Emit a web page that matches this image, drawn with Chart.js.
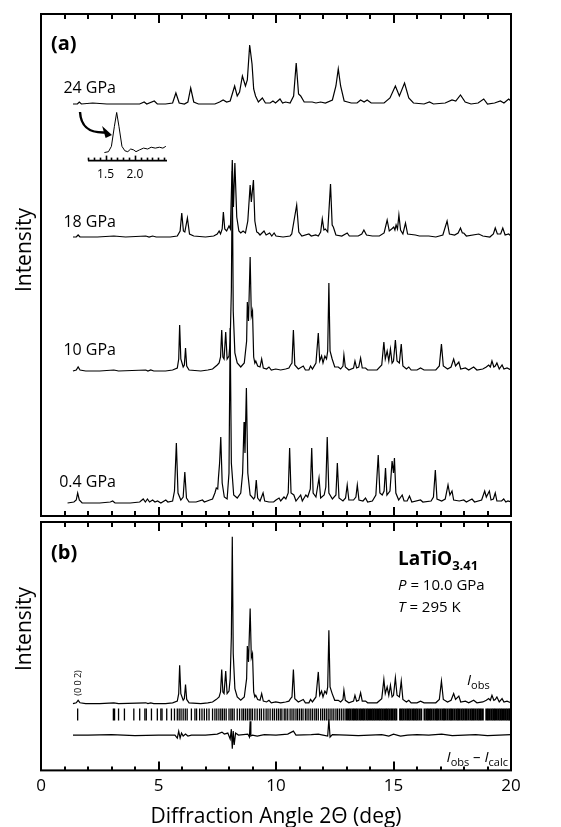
<!DOCTYPE html>
<html>
<head>
<meta charset="utf-8">
<script src="https://cdn.jsdelivr.net/npm/chart.js@4.4.1/dist/chart.umd.min.js"></script>
<style>
html, body { margin: 0; padding: 0; background: #fff; overflow: hidden; }
#wrap { position: relative; width: 561px; height: 827px; overflow: hidden; }
canvas { position: absolute; left: 0; }
</style>
</head>
<body>
<div id="wrap">
  <canvas id="panelA" width="561" height="518" style="top:0"></canvas>
  <canvas id="panelB" width="561" height="316" style="top:514px"></canvas>
  <canvas id="inset" width="120" height="92" style="left:60px;top:100px"></canvas>
</div>
<script>
// XRD patterns of LaTiO3.41, [2theta (deg), intensity above baseline]
const p24 = [[1.36,0],[1.55,0],[1.63,2],[1.72,0],[2.2,1],[2.8,0],[3.5,0],[4.2,0],[4.39,2],[4.5,0],[4.82,3],[4.95,0],[5.3,0],[5.6,1],[5.74,11],[5.88,1],[6.1,0],[6.25,2],[6.37,16],[6.5,2],[6.7,0],[7.4,0],[7.6,2],[7.75,4],[7.9,2],[8.05,3],[8.24,18],[8.35,8],[8.45,12],[8.57,28],[8.7,18],[8.78,24],[8.88,59],[8.98,40],[9.05,15],[9.13,8],[9.25,2],[9.42,6],[9.55,1],[9.75,1],[9.87,3],[9.98,1],[10.17,5],[10.28,1],[10.41,2],[10.6,1],[10.75,8],[10.86,41],[10.96,10],[11.05,8],[11.2,2],[11.54,2],[11.7,1],[11.9,2],[12.1,1],[12.4,4],[12.55,18],[12.65,35],[12.75,18],[12.9,3],[13.2,1],[13.45,1],[13.6,4],[13.75,2],[13.88,4],[14.05,1],[14.6,1],[14.85,6],[15.08,18],[15.25,8],[15.47,21],[15.65,6],[15.85,1],[16.3,0],[16.53,2],[16.7,0],[17.2,1],[17.49,4],[17.65,3],[17.85,9],[18.05,2],[18.3,0],[18.6,1],[18.84,5],[19.0,0],[19.3,1],[19.55,3],[19.7,1],[19.9,5],[20,3]];

const p18 = [[1.36,0],[1.5,0],[1.58,2],[1.66,0],[2.4,0],[3.1,1],[3.6,0],[4.46,1],[4.6,0],[4.75,1],[4.9,0],[5.5,0],[5.8,1],[5.92,6],[5.99,24],[6.06,6],[6.12,5],[6.23,19],[6.32,3],[6.5,1],[7.0,0],[7.35,1],[7.5,3],[7.58,6],[7.64,3],[7.71,8],[7.76,25],[7.82,8],[7.9,6],[8.0,11],[8.06,8],[8.14,77],[8.19,30],[8.25,74],[8.33,20],[8.42,6],[8.5,4],[8.6,6],[8.7,4],[8.8,16],[8.9,52],[8.95,35],[9.04,57],[9.1,16],[9.18,5],[9.25,4],[9.32,2],[9.49,6],[9.58,2],[9.73,4],[9.82,1],[9.92,4],[10.0,1],[10.3,0],[10.6,1],[10.67,3],[10.88,32],[10.97,5],[11.1,1],[11.4,3],[11.5,1],[11.69,2],[11.8,1],[11.9,5],[11.97,18],[12.04,7],[12.1,8],[12.2,5],[12.32,53],[12.39,12],[12.44,10],[12.55,2],[12.8,1],[13.03,4],[13.12,1],[13.5,1],[13.65,3],[13.74,7],[13.85,2],[14.1,1],[14.4,1],[14.6,4],[14.73,17],[14.82,6],[14.92,8],[15.01,10],[15.06,7],[15.11,12],[15.17,8],[15.23,22],[15.3,7],[15.4,3],[15.51,14],[15.6,3],[15.93,2],[16.1,1],[16.5,1],[16.8,0],[17.1,2],[17.28,16],[17.38,3],[17.6,2],[17.75,4],[17.85,9],[17.93,4],[17.99,4],[18.1,1],[18.63,3],[18.8,1],[19.1,0],[19.25,3],[19.33,9],[19.42,3],[19.56,3],[19.65,9],[19.75,2],[19.9,3],[20,1]];

const p10 = [[1.36,0],[1.5,1],[1.58,4],[1.66,1],[1.9,0],[2.5,0],[3.1,1],[3.3,0],[4.46,1],[4.55,0],[4.67,1],[4.8,0],[5.3,0],[5.6,1],[5.8,3],[5.86,12],[5.9,46],[5.95,12],[6.05,4],[6.1,6],[6.15,23],[6.2,5],[6.3,1],[6.8,0],[7.1,1],[7.3,2],[7.45,5],[7.5,6],[7.58,8],[7.64,14],[7.69,41],[7.74,14],[7.79,12],[7.86,39],[7.92,12],[8.0,15],[8.05,30],[8.1,80],[8.14,200],[8.18,60],[8.25,18],[8.35,8],[8.5,4],[8.65,8],[8.75,30],[8.78,69],[8.83,50],[8.9,114],[8.95,55],[9.0,60],[9.05,14],[9.1,8],[9.14,10],[9.22,5],[9.32,4],[9.39,12],[9.46,3],[9.6,2],[9.7,4],[9.8,1],[9.99,2],[10.2,1],[10.41,2],[10.55,3],[10.62,6],[10.68,8],[10.74,41],[10.8,6],[10.95,2],[11.16,5],[11.25,1],[11.4,1],[11.47,5],[11.55,2],[11.7,8],[11.8,38],[11.86,10],[11.94,15],[12.0,8],[12.08,15],[12.15,12],[12.2,20],[12.25,88],[12.3,20],[12.39,12],[12.5,4],[12.65,4],[12.75,2],[12.85,5],[12.89,16],[12.95,4],[13.1,1],[13.3,3],[13.36,10],[13.43,3],[13.52,4],[13.6,13],[13.67,3],[13.81,3],[13.9,1],[14.3,1],[14.5,6],[14.59,29],[14.65,12],[14.73,20],[14.8,10],[14.87,22],[14.94,8],[15.0,10],[15.08,31],[15.15,10],[15.25,8],[15.33,27],[15.4,5],[15.55,2],[15.65,4],[15.75,1],[16.0,1],[16.15,3],[16.3,1],[16.8,1],[16.95,5],[17.04,27],[17.12,5],[17.3,2],[17.45,4],[17.56,12],[17.64,5],[17.78,9],[17.86,2],[18.06,3],[18.2,1],[18.41,4],[18.55,1],[18.8,2],[18.95,4],[19.05,6],[19.12,4],[19.19,10],[19.27,4],[19.33,5],[19.4,8],[19.5,2],[19.62,6],[19.7,2],[19.83,3],[20,1]];

const p04 = [[1.13,0],[1.4,1],[1.5,3],[1.56,10],[1.63,3],[1.75,0],[2.5,0],[2.95,1],[3.05,2],[3.15,0],[3.8,0],[4.2,1],[4.35,4],[4.44,1],[4.53,4],[4.62,1],[4.75,3],[4.85,1],[4.96,2],[5.1,0],[5.31,3],[5.4,1],[5.6,2],[5.68,12],[5.76,60],[5.83,10],[5.95,3],[6.05,6],[6.12,31],[6.19,5],[6.3,1],[6.6,1],[6.87,3],[6.95,1],[7.18,3],[7.3,4],[7.4,10],[7.46,15],[7.52,14],[7.55,25],[7.6,40],[7.65,66],[7.71,20],[7.8,6],[7.92,4],[8.0,30],[8.05,175],[8.1,40],[8.2,8],[8.35,5],[8.5,10],[8.58,30],[8.64,81],[8.68,50],[8.74,115],[8.8,30],[8.9,8],[9.05,4],[9.1,6],[9.16,23],[9.22,5],[9.32,2],[9.45,10],[9.52,2],[9.7,1],[9.9,1],[10.0,3],[10.13,5],[10.2,2],[10.34,6],[10.42,4],[10.52,10],[10.58,55],[10.64,10],[10.76,8],[10.85,2],[11.05,8],[11.12,2],[11.27,8],[11.35,6],[11.46,14],[11.52,55],[11.58,10],[11.7,6],[11.83,25],[11.9,5],[12.05,8],[12.12,16],[12.18,66],[12.25,10],[12.4,4],[12.55,8],[12.61,40],[12.68,5],[12.85,2],[12.96,5],[13.03,18],[13.1,3],[13.3,3],[13.4,6],[13.46,18],[13.53,3],[13.7,2],[13.81,5],[13.9,1],[14.1,2],[14.25,8],[14.35,48],[14.42,10],[14.52,8],[14.6,12],[14.66,35],[14.72,8],[14.85,12],[14.94,42],[15.0,30],[15.04,45],[15.1,10],[15.22,3],[15.37,8],[15.45,2],[15.58,2],[15.68,7],[15.78,1],[16.15,3],[16.25,1],[16.6,2],[16.7,6],[16.78,33],[16.85,4],[17.05,2],[17.2,4],[17.32,18],[17.4,8],[17.49,12],[17.56,3],[17.8,2],[17.99,3],[18.1,1],[18.34,4],[18.45,1],[18.75,3],[18.88,12],[18.95,6],[19.08,12],[19.15,3],[19.25,4],[19.33,10],[19.4,2],[19.6,2],[19.69,4],[19.78,1],[19.87,2],[20,1]];

// low-angle part of the 24 GPa pattern, shown in the inset
const p24low = [[1.48,1],[1.55,2],[1.6,8],[1.65,30],[1.69,46],[1.73,30],[1.78,8],[1.83,3],[1.88,2],[1.93,5],[1.98,4],[2.02,2],[2.08,4],[2.15,6],[2.22,5],[2.28,7],[2.35,6],[2.42,7],[2.48,6],[2.53,8]];

// Rietveld fit at 10.0 GPa: difference curve and reflection positions
const diff = [[1.36,0],[2,0],[3,0.5],[4,-0.5],[5,0],[5.7,0],[5.8,-3],[5.86,4],[5.92,-3],[5.98,2],[6.05,-1],[6.15,1],[6.25,-1],[6.4,0],[7.0,0],[7.5,1],[7.7,3],[7.8,1],[7.95,2],[8.05,-4],[8.1,6],[8.14,-14],[8.18,4],[8.22,-10],[8.28,2],[8.4,0],[8.8,1],[8.87,-2],[8.9,14],[8.93,-1],[9.0,0],[9.2,-1],[9.5,0.5],[10,0],[10.5,1],[10.74,4],[10.85,0],[11.5,0.5],[11.8,1],[12.0,0],[12.2,-1],[12.25,16],[12.3,-2],[12.4,0.5],[13,0],[13.5,-0.5],[14,0],[14.5,0.5],[14.8,-1],[15,1],[15.3,-1],[15.6,0],[16,0.5],[16.5,0],[17.05,1],[17.5,-0.5],[18,0],[18.5,0.5],[19,-0.5],[19.5,0],[20,0.5]];

// reflection markers: resolved below 13 deg, a near-solid band above
const reflLow = [1.56,3.08,3.13,3.3,3.55,3.95,4.2,4.42,4.48,4.7,4.95,5.1,5.15,5.35,5.55,5.68,5.8,5.88,5.96,6.05,6.14,6.22,6.4,6.55,6.62,6.75,6.85,6.95,7.05,7.15,7.3,7.4,7.48,7.57,7.65,7.72,7.8,7.88,8.0,8.08,8.14,8.22,8.35,8.45,8.55,8.62,8.7,8.78,8.86,8.93,9.0,9.1,9.2,9.3,9.38,9.48,9.58,9.66,9.75,9.85,9.93,10.02,10.1,10.18,10.25,10.35,10.42,10.5,10.6,10.68,10.76,10.85,10.92,11.0,11.08,11.15,11.25,11.32,11.4,11.48,11.56,11.65,11.72,11.8,11.9,11.98,12.06,12.14,12.22,12.3,12.38,12.46,12.55,12.62,12.7,12.78,12.86,12.94];
const reflHigh = [13.02,13.1,13.17,13.25,13.32,13.4,13.47,13.55,13.62,13.7,13.77,13.85,13.92,14.0,14.08,14.15,14.22,14.3,14.38,14.45,14.52,14.6,14.68,14.75,14.82,14.9,14.97,15.05,15.12,15.28,15.35,15.42,15.5,15.58,15.65,15.72,15.8,15.87,15.95,16.02,16.1,16.18,16.32,16.4,16.47,16.55,16.62,16.7,16.78,16.85,16.92,17.0,17.08,17.15,17.22,17.3,17.38,17.45,17.52,17.6,17.68,17.75,17.82,17.9,17.97,18.05,18.12,18.2,18.28,18.35,18.42,18.5,18.58,18.65,18.72,18.8,18.95,19.02,19.1,19.18,19.25,19.32,19.4,19.48,19.55,19.62,19.7,19.78,19.85,19.92,19.98];

const pressures = ['24 GPa', '18 GPa', '10 GPa', '0.4 GPa'];
const patterns = [p24, p18, p10, p04];

// vertical stacking in panel (a), in px-like units of its y scale
const offsetsA = [412, 279, 145, 13];
const obsScaleB = 0.85;

const FAM = '"Open Sans", "Noto Sans", sans-serif';

function shift(arr, off, k) {
  return arr.map(([x, y]) => ({ x: x, y: y * k + off }));
}

function lineSet(data, w) {
  return { data: data, showLine: true, borderColor: '#000', borderWidth: w || 1.2,
           pointRadius: 0, tension: 0, fill: false };
}

function tickSet(list, w) {
  return { data: list.map(r => ({ x: r, y: 57 })), showLine: false, pointStyle: 'line',
           pointRotation: 90, pointRadius: 6, borderColor: '#000', borderWidth: w };
}

function drawXTicks(ctx, xs, y, dir, minor, major) {
  ctx.save();
  ctx.strokeStyle = '#000';
  ctx.lineWidth = 2;
  for (let v = 1; v < 20; v++) {
    const len = v % 5 === 0 ? major : minor;
    const px = Math.round(xs.getPixelForValue(v));
    ctx.beginPath();
    ctx.moveTo(px, y);
    ctx.lineTo(px, y + dir * len);
    ctx.stroke();
  }
  ctx.restore();
}

function vertText(ctx, text, x, y, font) {
  ctx.save();
  ctx.translate(x, y);
  ctx.rotate(-Math.PI / 2);
  ctx.font = font;
  ctx.textAlign = 'center';
  ctx.textBaseline = 'middle';
  ctx.fillText(text, 0, 0);
  ctx.restore();
}

function runs(ctx, x, y, parts) {
  for (const p of parts) {
    ctx.font = p.f;
    ctx.fillText(p.t, x, y + (p.dy || 0));
    x += ctx.measureText(p.t).width;
  }
  return x;
}

function runsWidth(ctx, parts) {
  let w = 0;
  for (const p of parts) { ctx.font = p.f; w += ctx.measureText(p.t).width; }
  return w;
}

const frameA = {
  id: 'frameA',
  afterDatasetsDraw(chart) {
    const { ctx, chartArea: a, scales: { x, y } } = chart;
    ctx.save();
    ctx.strokeStyle = '#000';
    ctx.lineWidth = 2;
    ctx.strokeRect(a.left, a.top, a.right - a.left, a.bottom - a.top);
    drawXTicks(ctx, x, a.top, 1, 5, 9);
    drawXTicks(ctx, x, a.bottom, -1, 5, 9);

    ctx.fillStyle = '#000';
    ctx.font = 'bold 20px ' + FAM;
    ctx.textBaseline = 'middle';
    ctx.fillText('(a)', a.left + 10, 44);

    ctx.font = '16px ' + FAM;
    ctx.textAlign = 'right';
    const lift = [16, 15, 21, 21];
    pressures.forEach((p, i) => {
      ctx.fillText(p, 116, y.getPixelForValue(offsetsA[i] + lift[i]));
    });

    vertText(ctx, 'Intensity', 25, 250, '21px ' + FAM);

    // curved arrow pointing to the inset
    const P = (d, v) => [x.getPixelForValue(d), y.getPixelForValue(v)];
    const s = P(1.66, 404), c1 = P(1.7, 388), c2 = P(2.1, 383), e = P(2.72, 383.5);
    ctx.lineWidth = 2.4;
    ctx.beginPath();
    ctx.moveTo(s[0], s[1]);
    ctx.bezierCurveTo(c1[0], c1[1], c2[0], c2[1], e[0], e[1]);
    ctx.stroke();
    const tip = P(3.02, 381), b1 = P(2.6, 390), b2 = P(2.75, 378);
    ctx.beginPath();
    ctx.moveTo(tip[0], tip[1]);
    ctx.lineTo(b1[0], b1[1]);
    ctx.lineTo(b2[0], b2[1]);
    ctx.closePath();
    ctx.fill();
    ctx.restore();
  }
};

const frameB = {
  id: 'frameB',
  afterDatasetsDraw(chart) {
    const { ctx, chartArea: a, scales: { x, y } } = chart;
    ctx.save();
    ctx.strokeStyle = '#000';
    ctx.lineWidth = 2;
    ctx.strokeRect(a.left, a.top, a.right - a.left, a.bottom - a.top);
    drawXTicks(ctx, x, a.top, 1, 5, 9);
    drawXTicks(ctx, x, a.bottom, -1, 4, 9);

    ctx.fillStyle = '#000';
    ctx.textBaseline = 'alphabetic';
    ctx.font = 'bold 20px ' + FAM;
    ctx.fillText('(b)', a.left + 10, 45);

    const oy = v => v - 514;
    runs(ctx, 398, oy(565), [
      { t: 'LaTiO', f: 'bold 19px ' + FAM },
      { t: '3.41', f: 'bold 13px ' + FAM, dy: 5 }
    ]);
    runs(ctx, 398, oy(590), [
      { t: 'P', f: 'italic 15px ' + FAM },
      { t: ' = 10.0 GPa', f: '15px ' + FAM }
    ]);
    runs(ctx, 398, oy(612), [
      { t: 'T', f: 'italic 15px ' + FAM },
      { t: ' = 295 K', f: '15px ' + FAM }
    ]);
    runs(ctx, 467, oy(685), [
      { t: 'I', f: 'italic 15px ' + FAM },
      { t: 'obs', f: '11px ' + FAM, dy: 4 }
    ]);
    const lbl = [
      { t: 'I', f: 'italic 15px ' + FAM },
      { t: 'obs', f: '11px ' + FAM, dy: 4 },
      { t: ' \u2013 ', f: '15px ' + FAM },
      { t: 'I', f: 'italic 15px ' + FAM },
      { t: 'calc', f: '11px ' + FAM, dy: 4 }
    ];
    runs(ctx, 508 - runsWidth(ctx, lbl), oy(762), lbl);

    vertText(ctx, '(0 0 2)', x.getPixelForValue(1.6), oy(683), '9px ' + FAM);
    vertText(ctx, 'Intensity', 25, oy(629), '21px ' + FAM);
    ctx.restore();
  }
};

const insetAxis = {
  id: 'insetAxis',
  afterDatasetsDraw(chart) {
    const { ctx, chartArea: a, scales: { x } } = chart;
    ctx.save();
    ctx.strokeStyle = '#000';
    ctx.lineWidth = 1.6;
    ctx.beginPath();
    ctx.moveTo(a.left, a.bottom);
    ctx.lineTo(a.right, a.bottom);
    ctx.stroke();
    for (let k = 12; k <= 25; k++) {
      const px = Math.round(x.getPixelForValue(k / 10)) + 0.5;
      const len = (k === 15 || k === 20) ? 5 : 3;
      ctx.beginPath();
      ctx.moveTo(px, a.bottom);
      ctx.lineTo(px, a.bottom - len);
      ctx.stroke();
    }
    ctx.restore();
  }
};

const noFx = { legend: { display: false }, tooltip: { enabled: false } };

new Chart(document.getElementById('panelA'), {
  type: 'scatter',
  data: { datasets: patterns.map((p, i) => lineSet(shift(p, offsetsA[i], 1))) },
  options: {
    responsive: false, animation: false,
    layout: { padding: { left: 41, right: 50, top: 14, bottom: 2 } },
    plugins: noFx,
    scales: {
      x: { type: 'linear', min: 0, max: 20, display: false },
      y: { type: 'linear', min: 0, max: 502, display: false }
    }
  },
  plugins: [frameA]
});

new Chart(document.getElementById('panelB'), {
  type: 'scatter',
  data: {
    datasets: [
      lineSet(shift(p10, 68, obsScaleB)),
      tickSet(reflLow, 1.3),
      tickSet(reflHigh, 2),
      lineSet(shift(diff, 36, 1))
    ]
  },
  options: {
    responsive: false, animation: false,
    layout: { padding: { left: 41, right: 50, top: 2, bottom: 0 } },
    plugins: noFx,
    scales: {
      x: {
        type: 'linear', min: 0, max: 20,
        grid: { display: false, drawTicks: false }, border: { display: false },
        ticks: { stepSize: 5, color: '#000', font: { family: FAM, size: 17 }, padding: 6,
                 maxRotation: 0, autoSkip: false },
        title: { display: true, text: 'Diffraction Angle 2\u0398 (deg)', color: '#000',
                 font: { family: FAM, size: 21 }, padding: { top: 2, bottom: 0 } }
      },
      y: { type: 'linear', min: 0, max: 253, display: false }
    }
  },
  plugins: [frameB]
});

new Chart(document.getElementById('inset'), {
  type: 'scatter',
  data: { datasets: [lineSet(p24low.map(([x, y]) => ({ x: x, y: y })), 1)] },
  options: {
    responsive: false, animation: false,
    layout: { padding: { left: 28, right: 13, top: 8, bottom: 3 } },
    plugins: noFx,
    scales: {
      x: {
        type: 'linear', min: 1.2, max: 2.55,
        grid: { display: false, drawTicks: false }, border: { display: false },
        ticks: { stepSize: 0.1, color: '#000', font: { family: FAM, size: 12 }, padding: 7,
                 maxRotation: 0, autoSkip: false,
                 callback: v => Math.abs(v - 1.5) < 1e-6 ? '1.5' : (Math.abs(v - 2) < 1e-6 ? '2.0' : '') }
      },
      y: { type: 'linear', min: -8, max: 51, display: false }
    }
  },
  plugins: [insetAxis]
});
</script>
</body>
</html>
